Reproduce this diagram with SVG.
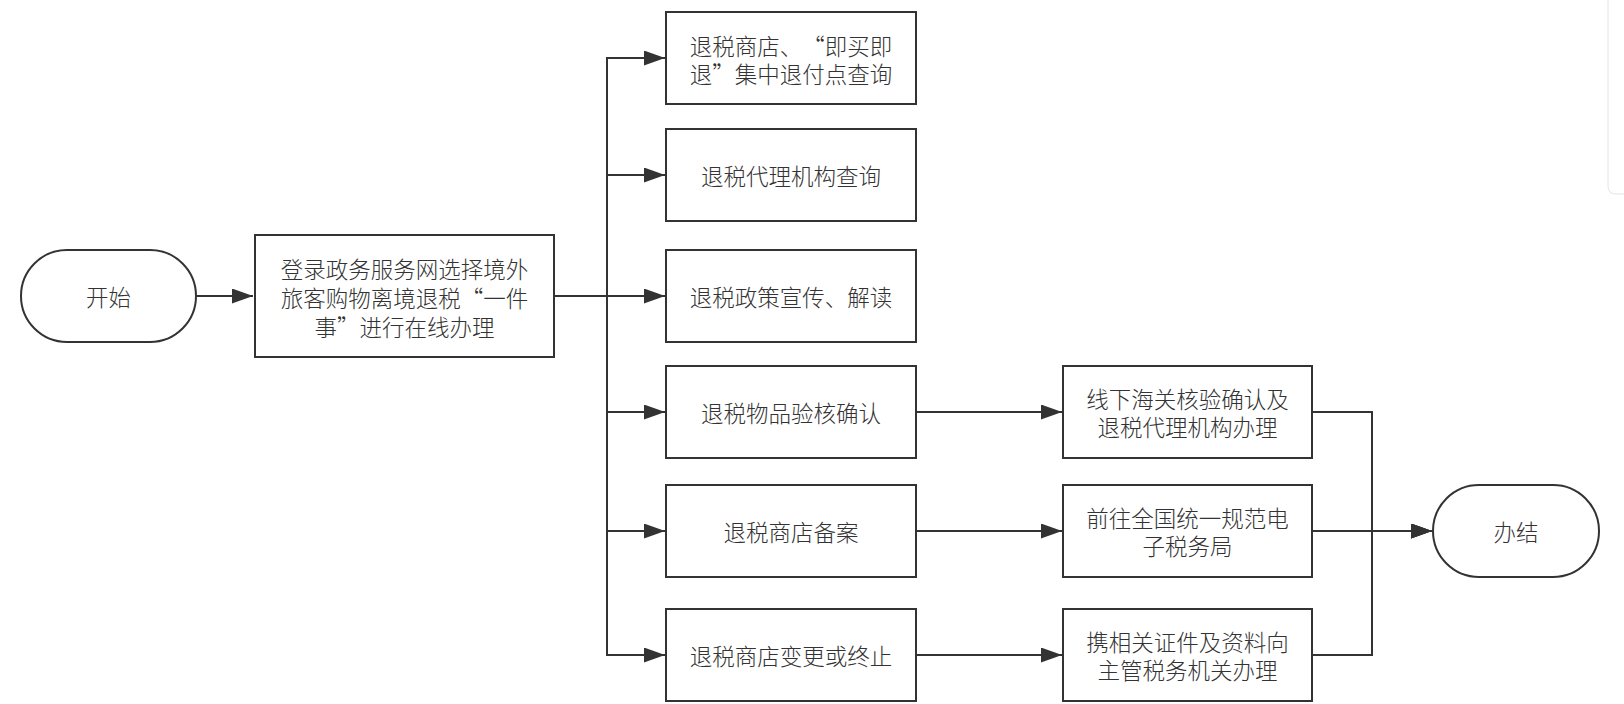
<svg xmlns="http://www.w3.org/2000/svg" width="1624" height="704" viewBox="0 0 1624 704" xml:lang="zh-CN" lang="zh-CN">
<style>
.box{fill:#fff;stroke:#333;stroke-width:2}
.t{font-family:"Noto Sans CJK SC","Noto Sans",sans-serif;font-size:22.5px;font-weight:300;font-feature-settings:"fwid" 1;text-spacing-trim:space-all;fill:#333;text-anchor:middle;dominant-baseline:central}
.c{fill:none;stroke:#333;stroke-width:2}
</style>
<defs>
<marker id="ah" markerUnits="userSpaceOnUse" markerWidth="22" markerHeight="16" refX="21" refY="7.5" orient="auto">
<path d="M0,0 L21,7.5 L0,15 z" fill="#333"/>
</marker>
</defs>
<rect width="1624" height="704" fill="#fff"/>
<path d="M1608,0 V186 Q1608,194 1616,194 H1624" fill="none" stroke="#e4e4e4" stroke-width="1"/>
<g id="connectors">
<path class="c" d="M196,296 H253" marker-end="url(#ah)"/>
<path class="c" d="M554,296 H607" stroke-width="3.5"/>
<path class="c" d="M554,296 H607 V58 H665" marker-end="url(#ah)"/>
<path class="c" d="M554,296 H607 V175 H665" marker-end="url(#ah)"/>
<path class="c" d="M554,296 H665" marker-end="url(#ah)"/>
<path class="c" d="M554,296 H607 V412 H665" marker-end="url(#ah)"/>
<path class="c" d="M554,296 H607 V531 H665" marker-end="url(#ah)"/>
<path class="c" d="M554,296 H607 V655 H665" marker-end="url(#ah)"/>
<path class="c" d="M916,412 H1062" marker-end="url(#ah)"/>
<path class="c" d="M916,531 H1062" marker-end="url(#ah)"/>
<path class="c" d="M916,655 H1062" marker-end="url(#ah)"/>
<path class="c" d="M1312,412 H1372 V531 H1432" marker-end="url(#ah)"/>
<path class="c" d="M1312,531 H1432" marker-end="url(#ah)"/>
<path class="c" d="M1312,655 H1372 V531 H1432" marker-end="url(#ah)"/>
<path class="c" d="M1372,531 H1412" stroke-width="3.5"/>
</g>
<g id="start">
<rect class="box" x="21" y="250" width="175" height="92" rx="46"/>
<text class="t" x="108.5" y="296">开始</text>
</g>
<g id="login">
<rect class="box" x="255" y="235" width="299" height="122"/>
<text class="t" x="404.5" y="268">登录政务服务网选择境外</text>
<text class="t" x="404.5" y="297">旅客购物离境退税“一件</text>
<text class="t" x="404.5" y="326">事”进行在线办理</text>
</g>
<g id="n1">
<rect class="box" x="666" y="12" width="250" height="92"/>
<text class="t" x="791" y="44.5">退税商店、“即买即</text>
<text class="t" x="791" y="72.5">退”集中退付点查询</text>
</g>
<g id="n2">
<rect class="box" x="666" y="129" width="250" height="92"/>
<text class="t" x="791" y="175">退税代理机构查询</text>
</g>
<g id="n3">
<rect class="box" x="666" y="250" width="250" height="92"/>
<text class="t" x="791" y="296">退税政策宣传、解读</text>
</g>
<g id="n4">
<rect class="box" x="666" y="366" width="250" height="92"/>
<text class="t" x="791" y="412">退税物品验核确认</text>
</g>
<g id="n5">
<rect class="box" x="666" y="485" width="250" height="92"/>
<text class="t" x="791" y="531">退税商店备案</text>
</g>
<g id="n6">
<rect class="box" x="666" y="609" width="250" height="92"/>
<text class="t" x="791" y="655">退税商店变更或终止</text>
</g>
<g id="a1">
<rect class="box" x="1063" y="366" width="249" height="92"/>
<text class="t" x="1187.5" y="398">线下海关核验确认及</text>
<text class="t" x="1187.5" y="426">退税代理机构办理</text>
</g>
<g id="a2">
<rect class="box" x="1063" y="485" width="249" height="92"/>
<text class="t" x="1187.5" y="517">前往全国统一规范电</text>
<text class="t" x="1187.5" y="545">子税务局</text>
</g>
<g id="a3">
<rect class="box" x="1063" y="609" width="249" height="92"/>
<text class="t" x="1187.5" y="641">携相关证件及资料向</text>
<text class="t" x="1187.5" y="669">主管税务机关办理</text>
</g>
<g id="end">
<rect class="box" x="1433" y="485" width="166" height="92" rx="46"/>
<text class="t" x="1516" y="531">办结</text>
</g>
</svg>
